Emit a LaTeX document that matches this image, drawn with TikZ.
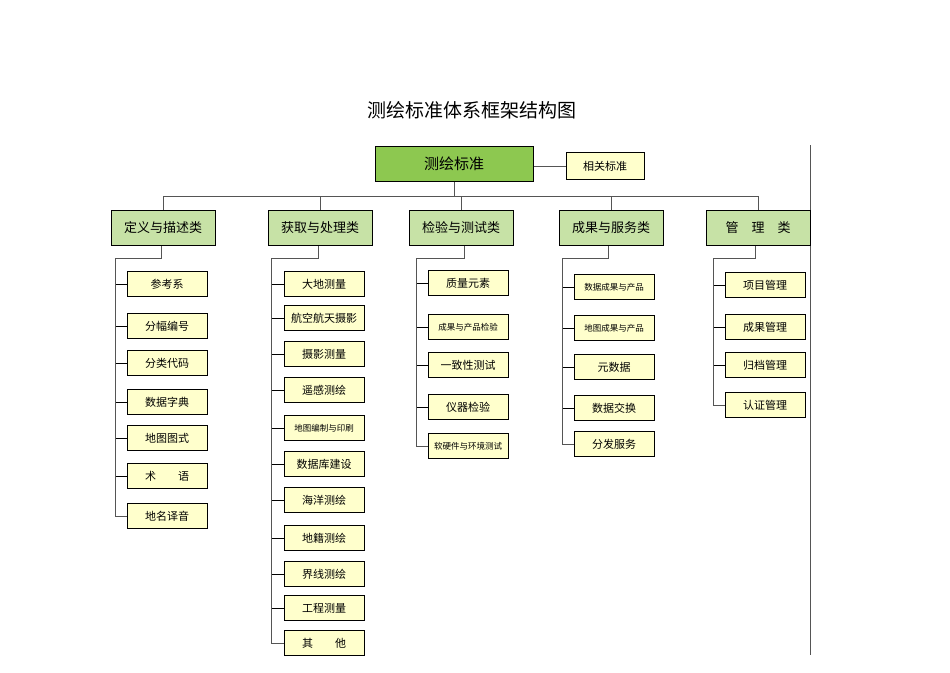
\documentclass[tikz,border=0pt]{standalone}
\usepackage{fontspec}
\setmainfont{Noto Sans CJK SC}
\definecolor{rootg}{HTML}{8DC850}
\definecolor{catg}{HTML}{C7E2A6}
\definecolor{itemy}{HTML}{FFFFCC}
\definecolor{ln}{HTML}{555555}
\begin{document}
\begin{tikzpicture}[x=1pt,y=-1pt,
 box/.style={draw=black,line width=1pt,anchor=center,inner sep=0pt},
 rootbox/.style={box,fill=rootg,minimum width=158pt,minimum height=35pt,font=\fontsize{15}{15}\selectfont},
 catbox/.style={box,fill=catg,minimum width=104pt,minimum height=35pt,font=\fontsize{13}{13}\selectfont},
 itembox/.style={box,fill=itemy,minimum width=80pt,minimum height=25pt,font=\fontsize{11}{11}\selectfont},
 smallt/.style={font=\fontsize{8.5}{8.5}\selectfont},
 conn/.style={draw=ln,line width=0.8pt},
 tick/.style={draw=black,line width=1pt}]
\useasboundingbox (0,0) rectangle (950,672);
\node (title) at (472,110) {\fontsize{19}{19}\selectfont 测绘标准体系框架结构图};
\node[rootbox] (root) at (454,164) {测绘标准};
\node[itembox,minimum width=78pt,minimum height=27pt] (rel) at (605,166) {相关标准};
\draw[conn] (root.east |- rel.west) -- (rel.west);
\coordinate (rt) at (810,145); \coordinate (rb) at (810,655);
\draw[conn] (rt) -- (rb);
\node[catbox] (c1) at (163,228) {定义与描述类};
\node[catbox] (c2) at (320,228) {获取与处理类};
\node[catbox] (c3) at (461,228) {检验与测试类};
\node[catbox] (c4) at (611,228) {成果与服务类};
\node[catbox] (c5) at (758,228) {管\quad 理\quad 类};
\coordinate (bus) at (454,196);
\draw[conn] (root.south) -- (bus);
\draw[conn] (c1.north) -- (c1.north |- bus) -- (c5.north |- bus) -- (c5.north);
\foreach \c in {c2,c3,c4} \draw[conn] (\c.north) -- (\c.north |- bus);
% column 1
\foreach \n/\y/\t in {a1/284/参考系,a2/326/分幅编号,a3/363/分类代码,a4/402/数据字典,a5/438/地图图式,a6/476/术\qquad 语,a7/516/地名译音}
 {\node[itembox] (\n) at (167,\y) {\t}; \draw[tick] (\n.west) -- +(-12,0);}
\draw[conn] (c1.south -| 161,0) -- (161,258) -- (115,258) -- (115,516) -- (a7.west);
% column 2
\foreach \n/\y/\t in {b1/284/大地测量,b2/318/航空航天摄影,b3/354/摄影测量,b4/390/遥感测绘,b6/464/数据库建设,b7/500/海洋测绘,b8/538/地籍测绘,b9/574/界线测绘,b10/608/工程测量,b11/643/其\qquad 他}
 {\node[itembox] (\n) at (324,\y) {\t}; \draw[tick] (\n.west) -- +(-13,0);}
\node[itembox,smallt] (b5) at (324,428) {地图编制与印刷}; \draw[tick] (b5.west) -- +(-13,0);
\draw[conn] (c2.south -| 318,0) -- (318,258) -- (271,258) -- (271,643) -- (b11.west);
% column 3
\foreach \n/\y/\t in {d1/283/质量元素,d3/365/一致性测试,d4/407/仪器检验}
 {\node[itembox] (\n) at (468,\y) {\t}; \draw[tick] (\n.west) -- +(-12,0);}
\foreach \n/\y/\t in {d2/327/成果与产品检验,d5/446/软硬件与环境测试}
 {\node[itembox,smallt] (\n) at (468,\y) {\t}; \draw[tick] (\n.west) -- +(-12,0);}
\draw[conn] (c3.south -| 464,0) -- (464,258) -- (416,258) -- (416,446) -- (d5.west);
% column 4
\foreach \n/\y/\t in {e1/287/数据成果与产品,e2/328/地图成果与产品}
 {\node[itembox,smallt] (\n) at (614,\y) {\t}; \draw[tick] (\n.west) -- +(-12,0);}
\foreach \n/\y/\t in {e3/367/元数据,e4/408/数据交换,e5/444/分发服务}
 {\node[itembox] (\n) at (614,\y) {\t}; \draw[tick] (\n.west) -- +(-12,0);}
\draw[conn] (c4.south -| 608,0) -- (608,258) -- (562,258) -- (562,444) -- (e5.west);
% column 5
\foreach \n/\y/\t in {f1/285/项目管理,f2/327/成果管理,f3/365/归档管理,f4/405/认证管理}
 {\node[itembox] (\n) at (765,\y) {\t}; \draw[tick] (\n.west) -- +(-12,0);}
\draw[conn] (c5.south -| 755,0) -- (755,258) -- (713,258) -- (713,405) -- (f4.west);
\end{tikzpicture}
\end{document}
